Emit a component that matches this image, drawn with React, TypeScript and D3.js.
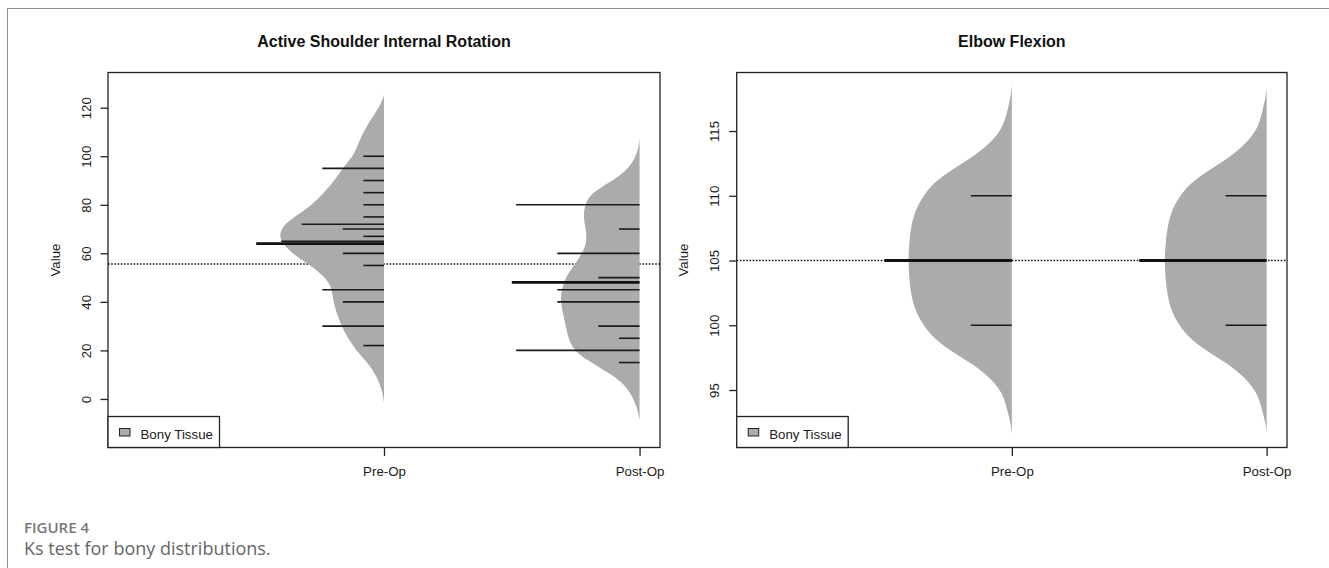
import { area, axisBottom, axisLeft, curveBasis, scaleLinear, select } from "d3";
import { useEffect, useRef } from "react";

type Obs = { value: number; count: number };
type Dens = { value: number; density: number };

const groups = ["Pre-Op", "Post-Op"];
const legendLabel = "Bony Tissue";

// Active Shoulder Internal Rotation
const shoulderTicks = [0, 20, 40, 60, 80, 100, 120];
const shoulderPreObs: Obs[] = [
  { value: 100, count: 1 }, { value: 95, count: 3 }, { value: 90, count: 1 },
  { value: 85, count: 1 }, { value: 80, count: 1 }, { value: 75, count: 1 },
  { value: 72, count: 4 }, { value: 70, count: 2 }, { value: 67, count: 1 },
  { value: 65, count: 5 }, { value: 60, count: 2 }, { value: 55, count: 1 },
  { value: 45, count: 3 }, { value: 40, count: 2 }, { value: 30, count: 3 },
  { value: 22, count: 1 },
];
const shoulderPostObs: Obs[] = [
  { value: 80, count: 6 }, { value: 70, count: 1 }, { value: 60, count: 4 },
  { value: 50, count: 2 }, { value: 45, count: 4 }, { value: 40, count: 4 },
  { value: 30, count: 2 }, { value: 25, count: 1 }, { value: 20, count: 6 },
  { value: 15, count: 1 },
];
const shoulderPreDensity: Dens[] = [
  { value: 125.3, density: 0 }, { value: 123.5, density: 0.01 }, { value: 121.0, density: 0.04 },
  { value: 118.0, density: 0.08 }, { value: 115.0, density: 0.13 }, { value: 112.0, density: 0.17 },
  { value: 109.0, density: 0.21 }, { value: 105.0, density: 0.25 }, { value: 101.0, density: 0.29 },
  { value: 98.0, density: 0.34 }, { value: 95.0, density: 0.4 }, { value: 90.0, density: 0.48 },
  { value: 85.0, density: 0.58 }, { value: 80.0, density: 0.7 }, { value: 76.0, density: 0.83 },
  { value: 72.5, density: 0.95 }, { value: 69.5, density: 1.0 }, { value: 66.5, density: 1.01 },
  { value: 63.5, density: 0.97 }, { value: 60.0, density: 0.89 }, { value: 56.0, density: 0.75 },
  { value: 52.0, density: 0.62 }, { value: 48.0, density: 0.53 }, { value: 44.0, density: 0.5 },
  { value: 40.0, density: 0.49 }, { value: 35.5, density: 0.46 }, { value: 30.0, density: 0.41 },
  { value: 25.0, density: 0.35 }, { value: 20.0, density: 0.27 }, { value: 15.0, density: 0.16 },
  { value: 10.0, density: 0.08 }, { value: 5.0, density: 0.03 }, { value: 1.5, density: 0.01 },
  { value: -1.5, density: 0 },
];
const shoulderPostDensity: Dens[] = [
  { value: 107.4, density: 0 }, { value: 104.0, density: 0.01 }, { value: 100.5, density: 0.03 },
  { value: 97.5, density: 0.07 }, { value: 95.0, density: 0.11 }, { value: 91.0, density: 0.22 },
  { value: 87.0, density: 0.38 }, { value: 84.0, density: 0.48 }, { value: 80.0, density: 0.53 },
  { value: 75.0, density: 0.545 }, { value: 70.0, density: 0.52 }, { value: 65.0, density: 0.51 },
  { value: 61.0, density: 0.545 }, { value: 57.0, density: 0.6 }, { value: 52.5, density: 0.68 },
  { value: 48.5, density: 0.73 }, { value: 44.0, density: 0.76 }, { value: 40.0, density: 0.765 },
  { value: 35.0, density: 0.74 }, { value: 29.0, density: 0.71 }, { value: 23.5, density: 0.68 },
  { value: 19.5, density: 0.62 }, { value: 15.5, density: 0.49 }, { value: 11.0, density: 0.31 },
  { value: 7.0, density: 0.17 }, { value: 2.0, density: 0.08 }, { value: -2.5, density: 0.035 },
  { value: -6.0, density: 0.012 }, { value: -8.7, density: 0 },
];
const shoulderMeans = [64, 48];
const shoulderOverall = 55.6;

// Elbow Flexion
const elbowTicks = [95, 100, 105, 110, 115];
const elbowPreObs: Obs[] = [
  { value: 110, count: 2 }, { value: 105, count: 6 }, { value: 100, count: 2 },
];
const elbowPostObs: Obs[] = [
  { value: 110, count: 2 }, { value: 105, count: 6 }, { value: 100, count: 2 },
];
const elbowPreDensity: Dens[] = [
  { value: 118.55, density: 0 }, { value: 117.8, density: 0.01 }, { value: 117.0, density: 0.03 },
  { value: 116.0, density: 0.06 }, { value: 115.0, density: 0.11 }, { value: 114.0, density: 0.22 },
  { value: 113.0, density: 0.38 }, { value: 112.0, density: 0.59 }, { value: 111.0, density: 0.76 },
  { value: 110.0, density: 0.86 }, { value: 109.0, density: 0.93 }, { value: 108.0, density: 0.97 },
  { value: 107.0, density: 0.99 }, { value: 106.0, density: 1.0 }, { value: 105.05, density: 1.005 },
  { value: 104.0, density: 1.0 }, { value: 103.0, density: 0.99 }, { value: 102.0, density: 0.97 },
  { value: 101.0, density: 0.93 }, { value: 100.0, density: 0.86 }, { value: 99.0, density: 0.76 },
  { value: 98.0, density: 0.59 }, { value: 97.0, density: 0.38 }, { value: 96.0, density: 0.22 },
  { value: 95.0, density: 0.11 }, { value: 94.0, density: 0.06 }, { value: 93.0, density: 0.03 },
  { value: 92.3, density: 0.01 }, { value: 91.6, density: 0 },
];
const elbowPostDensity: Dens[] = [
  { value: 118.3, density: 0 }, { value: 117.6, density: 0.01 }, { value: 116.9, density: 0.03 },
  { value: 115.9, density: 0.06 }, { value: 114.9, density: 0.11 }, { value: 113.9, density: 0.22 },
  { value: 112.9, density: 0.37 }, { value: 111.9, density: 0.58 }, { value: 110.9, density: 0.75 },
  { value: 109.9, density: 0.85 }, { value: 108.9, density: 0.92 }, { value: 107.9, density: 0.955 },
  { value: 106.9, density: 0.975 }, { value: 105.9, density: 0.985 }, { value: 105.0, density: 0.99 },
  { value: 104.0, density: 0.985 }, { value: 103.0, density: 0.975 }, { value: 102.0, density: 0.955 },
  { value: 101.0, density: 0.92 }, { value: 100.0, density: 0.85 }, { value: 99.0, density: 0.75 },
  { value: 98.0, density: 0.58 }, { value: 97.0, density: 0.37 }, { value: 96.0, density: 0.22 },
  { value: 95.0, density: 0.11 }, { value: 94.0, density: 0.06 }, { value: 93.0, density: 0.03 },
  { value: 92.4, density: 0.01 }, { value: 91.7, density: 0 },
];
const elbowMeans = [105, 105];
const elbowOverall = 105;

const W = 1329;
const H = 568;
const FONT = "'Liberation Sans', Arial, Helvetica, sans-serif";

const panels = [
  {
    title: "Active Shoulder Internal Rotation",
    left: 108,
    right: 660,
    yDomain: [-20, 134.5],
    ticks: shoulderTicks,
    obs: [shoulderPreObs, shoulderPostObs],
    dens: [shoulderPreDensity, shoulderPostDensity],
    means: shoulderMeans,
    overall: shoulderOverall,
  },
  {
    title: "Elbow Flexion",
    left: 736.7,
    right: 1287,
    yDomain: [90.56, 119.52],
    ticks: elbowTicks,
    obs: [elbowPreObs, elbowPostObs],
    dens: [elbowPreDensity, elbowPostDensity],
    means: elbowMeans,
    overall: elbowOverall,
  },
];

export default function App() {
  const svgRef = useRef<SVGSVGElement | null>(null);

  useEffect(() => {
    document.body.style.margin = "0";
    if (!svgRef.current) return;
    const svg = select(svgRef.current);
    svg.selectAll("*").remove();

    const top = 72.5;
    const bottom = 447.5;
    const beanWidth = 0.404; // x units at density 1
    const lineUnit = 0.0805; // x units per repeated observation
    const meanLen = 0.5;

    // figure frame
    svg
      .append("rect")
      .attr("x", 7.5)
      .attr("y", 8.5)
      .attr("width", W)
      .attr("height", H)
      .attr("fill", "none")
      .attr("stroke", "#8e8e8e");

    panels.forEach((p) => {
      const x = scaleLinear().domain([-0.08, 2.08]).range([p.left, p.right]);
      const y = scaleLinear().domain(p.yDomain).range([bottom, top]);
      const g = svg.append("g").attr("font-family", FONT);

      g.append("text")
        .attr("x", (p.left + p.right) / 2)
        .attr("y", 47.3)
        .attr("text-anchor", "middle")
        .attr("font-weight", "bold")
        .attr("font-size", 16)
        .attr("fill", "#111")
        .text(p.title);

      // overall mean (dotted)
      g.append("line")
        .attr("x1", p.left)
        .attr("x2", p.right)
        .attr("y1", y(p.overall))
        .attr("y2", y(p.overall))
        .attr("stroke", "#111")
        .attr("stroke-width", 1.4)
        .attr("stroke-dasharray", "1.6,1.6");

      groups.forEach((_, i) => {
        const pos = i + 1;
        const bean = area<Dens>()
          .y((d) => y(d.value))
          .x0((d) => x(pos - d.density * beanWidth))
          .x1(x(pos))
          .curve(curveBasis);
        g.append("path").attr("d", bean(p.dens[i]) ?? "").attr("fill", "#ababab");

        g.append("g")
          .selectAll("line")
          .data(p.obs[i])
          .join("line")
          .attr("x1", (d) => x(pos - d.count * lineUnit))
          .attr("x2", x(pos))
          .attr("y1", (d) => y(d.value))
          .attr("y2", (d) => y(d.value))
          .attr("stroke", "#1a1a1a")
          .attr("stroke-width", 1.6);

        g.append("line")
          .attr("x1", x(pos - meanLen))
          .attr("x2", x(pos))
          .attr("y1", y(p.means[i]))
          .attr("y2", y(p.means[i]))
          .attr("stroke", "#111")
          .attr("stroke-width", 2.8);
      });

      // plot box
      g.append("rect")
        .attr("x", p.left)
        .attr("y", top)
        .attr("width", p.right - p.left)
        .attr("height", bottom - top)
        .attr("fill", "none")
        .attr("stroke", "#222")
        .attr("stroke-width", 1.3);

      const yAxis = g
        .append("g")
        .attr("transform", `translate(${p.left},0)`)
        .call(axisLeft(y).tickValues(p.ticks).tickSize(7.5));
      yAxis.select(".domain").remove();
      yAxis.selectAll("line").attr("stroke", "#222").attr("stroke-width", 1.3);
      yAxis
        .selectAll("text")
        .attr("x", null)
        .attr("dy", null)
        .attr("transform", "translate(-17.5,0) rotate(-90)")
        .attr("text-anchor", "middle")
        .attr("font-family", FONT)
        .attr("font-size", 13.3)
        .attr("fill", "#1a1a1a");

      g.append("text")
        .attr("transform", `translate(${p.left - 48.5},${(top + bottom) / 2}) rotate(-90)`)
        .attr("text-anchor", "middle")
        .attr("font-size", 13.3)
        .attr("fill", "#1a1a1a")
        .text("Value");

      const xAxis = g
        .append("g")
        .attr("transform", `translate(0,${bottom})`)
        .call(
          axisBottom(x)
            .tickValues([1, 2])
            .tickSize(8.5)
            .tickFormat((d) => groups[Number(d) - 1]),
        );
      xAxis.select(".domain").remove();
      xAxis.selectAll("line").attr("stroke", "#222").attr("stroke-width", 1.3);
      xAxis
        .selectAll("text")
        .attr("y", 28.5)
        .attr("dy", null)
        .attr("font-family", FONT)
        .attr("font-size", 13.3)
        .attr("fill", "#1a1a1a");

      // legend
      const lg = g.append("g").attr("transform", `translate(${p.left},${bottom})`);
      lg.append("rect")
        .attr("x", 0)
        .attr("y", -31)
        .attr("width", 111.5)
        .attr("height", 31)
        .attr("fill", "#fff")
        .attr("stroke", "#222")
        .attr("stroke-width", 1.3);
      lg.append("rect")
        .attr("x", 11.5)
        .attr("y", -19)
        .attr("width", 10.5)
        .attr("height", 7.5)
        .attr("fill", "#ababab")
        .attr("stroke", "#222")
        .attr("stroke-width", 1);
      lg.append("text")
        .attr("x", 32.5)
        .attr("y", -9)
        .attr("font-size", 13.3)
        .attr("fill", "#1a1a1a")
        .text(legendLabel);
    });

    // caption
    svg
      .append("text")
      .attr("x", 24)
      .attr("y", 532.7)
      .attr("font-family", "'Open Sans', 'Noto Sans', sans-serif")
      .attr("font-weight", 600)
      .attr("font-size", 15)
      .attr("fill", "#777")
      .text("FIGURE 4");
    svg
      .append("text")
      .attr("x", 24)
      .attr("y", 555)
      .attr("font-family", "'Open Sans', 'Noto Sans', sans-serif")
      .attr("font-size", 18)
      .attr("fill", "#666")
      .text("Ks test for bony distributions.");
  }, []);

  return (
    <svg
      ref={svgRef}
      width={W}
      height={H}
      style={{ display: "block", background: "#fff" }}
      role="img"
      aria-label="Bean plots of bony tissue distributions"
    />
  );
}
